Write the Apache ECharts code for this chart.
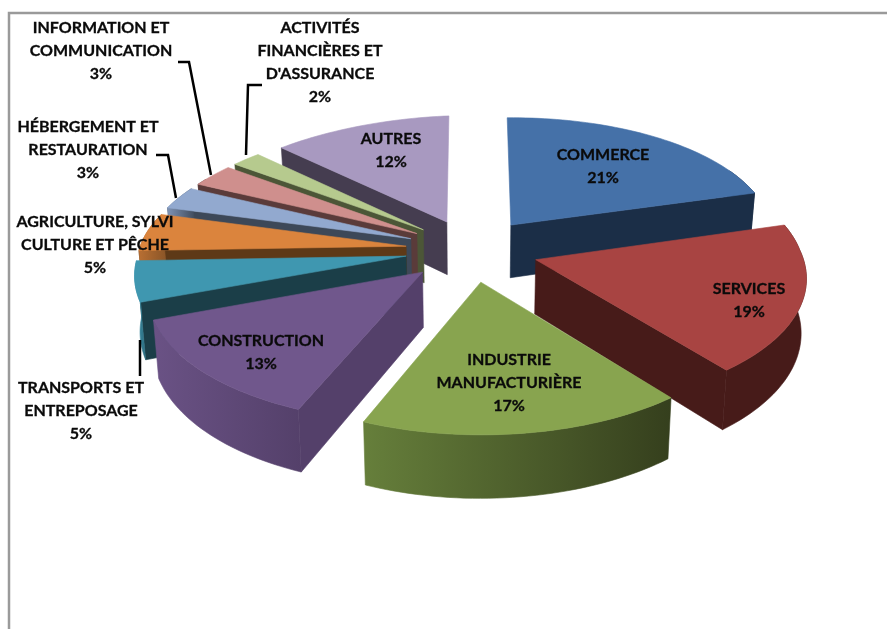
<!DOCTYPE html>
<html>
<head>
<meta charset="utf-8">
<style>html,body{margin:0;padding:0;background:#fff}#main{width:887px;height:629px}</style>
<script src="https://cdn.jsdelivr.net/npm/echarts@6/dist/echarts.min.js"></script>
</head>
<body>
<div id="main"></div>
<script>
var categories = ['COMMERCE', 'SERVICES', 'INDUSTRIE\nMANUFACTURIÈRE', 'CONSTRUCTION', 'TRANSPORTS ET\nENTREPOSAGE',
    'AGRICULTURE, SYLVI\nCULTURE ET PÊCHE', 'HÉBERGEMENT ET\nRESTAURATION', 'INFORMATION ET\nCOMMUNICATION',
    'ACTIVITÉS\nFINANCIÈRES ET\nD\'ASSURANCE', 'AUTRES'];
var values = [21, 19, 17, 13, 5, 5, 3, 3, 2, 12];

var topColors = ['#4571a8', '#a84442', '#88a44f', '#70578c', '#3f97b0', '#db843d', '#92a9cf', '#cf8f8d', '#b6ca8e', '#a899c0'];
var wallColors = ['#1b2e47', '#471b19', '#3a461f', '#54406a', '#1b3e48', '#5e3917', '#3d4858', '#5a3b3a', '#4c5637', '#453d50'];
var rimLeft = ['#1b2e47', '#471b19', '#667f3b', '#6a5285', '#3f97b0', '#b86f33', '#7f93b5', '#5a3b3a', '#4c5637', '#453d50'];
var rimRight = ['#1b2e47', '#471b19', '#353f1d', '#54406a', '#2b6a7c', '#8a5527', '#3d4858', '#5a3b3a', '#4c5637', '#453d50'];

// back to front, so the nearer slices cover the walls of the others
var drawOrder = [0, 9, 8, 7, 6, 5, 4, 1, 3, 2];

var labelCenters = [[603, 166], [749, 300], [509, 383], [261, 352], [81, 411], [95, 245], [88, 150], [101, 51], [320, 62], [391, 150]];
var leaderLines = [
    [[140, 340], [140, 376]],
    [[156, 155], [168, 155], [176, 198]],
    [[178, 62], [189, 62], [211, 175]],
    [[262, 85], [248, 85], [246, 155]]
];

// projection of the tilted pie
var cx = 476, cy = 250, scaleX = 266, scaleY = 126, perspY = 0.12, perspX = 0.012;
var explode = 0.25, rotation = -2, thickness = 54, squeeze = 0.984;
var apexShift = -4, backShear = 4, backDrop = 6;

var total = 0;
values.forEach(function (v) { total += v; });
var startAngles = [];
var acc = 0;
values.forEach(function (v) {
    startAngles.push(acc / total * 360 + rotation);
    acc += v;
});

function rad(a) { return a * Math.PI / 180; }

function project(X, Y, low) {
    var w = 1 + perspY * Y + perspX * X;
    var back = Math.max(Y, 0);
    var x = scaleX * X / w + backShear * back * Math.max(1 + X, 0);
    var y = -scaleY * Y / w + backDrop * back * Math.max(-X, 0);
    if (low) {
        x *= squeeze;
        y += thickness / w;
    }
    return [cx + x, cy + y];
}

function slicePoints(i) {
    var a0 = startAngles[i];
    var a1 = a0 + values[i] / total * 360;
    var m = rad((a0 + a1) / 2);
    var ox = explode * Math.sin(m), oy = explode * Math.cos(m);
    var arc = [], rim = [], rimLow = [];
    function addPoint(a) {
        var sx = ox + Math.sin(rad(a)), sy = oy + Math.cos(rad(a));
        arc.push(project(sx, sy));
        // the far side of the rim can not be seen
        if (Math.cos(rad(a)) < 0.5) {
            rim.push(project(sx, sy));
            rimLow.push(project(sx, sy, true));
        }
    }
    for (var a = a0; a < a1; a += 1.5) addPoint(a);
    addPoint(a1);
    var apex = project(ox, oy), apexLow = project(ox, oy, true);
    apex[0] += apexShift;
    apexLow[0] += apexShift;
    return {
        a0: a0, a1: a1, apex: apex, apexLow: apexLow, arc: arc, rim: rim, rimLow: rimLow,
        firstLow: project(ox + Math.sin(rad(a0)), oy + Math.cos(rad(a0)), true),
        lastLow: project(ox + Math.sin(rad(a1)), oy + Math.cos(rad(a1)), true)
    };
}

function poly(points, fill) {
    return { type: 'polygon', shape: { points: points }, style: { fill: fill, stroke: fill, lineWidth: 0.6 } };
}

function renderSlice(params, api) {
    var i = api.value(0);
    var p = slicePoints(i);
    var n = p.arc.length - 1;
    var rimFill = new echarts.graphic.LinearGradient(0, 0, 1, 0, [
        { offset: 0, color: rimLeft[i] },
        { offset: 1, color: rimRight[i] }
    ]);
    var children = [];
    // only the walls turned towards the viewer
    if (Math.sin(rad(p.a0)) < -0.1) {
        children.push(poly([p.apex, p.arc[0], p.firstLow, p.apexLow], wallColors[i]));
    }
    if (Math.sin(rad(p.a1)) > 0.1) {
        children.push(poly([p.apex, p.arc[n], p.lastLow, p.apexLow], wallColors[i]));
    }
    if (p.rim.length > 1) {
        children.push(poly(p.rim.concat(p.rimLow.slice().reverse()), rimFill));
    }
    children.push(poly([p.apex].concat(p.arc), topColors[i]));
    return { type: 'group', children: children };
}

function renderLabel(params, api) {
    var i = api.value(0);
    return {
        type: 'text',
        x: labelCenters[i][0],
        y: labelCenters[i][1],
        style: {
            text: categories[i] + '\n' + values[i] + '%',
            fill: '#0a0a0a',
            stroke: '#0a0a0a',
            lineWidth: 0.3,
            font: 'bold 16px Lato',
            lineHeight: 23,
            align: 'center',
            verticalAlign: 'middle'
        }
    };
}

function renderLeader(params, api) {
    return {
        type: 'polyline',
        shape: { points: leaderLines[api.value(0)] },
        style: { stroke: '#000', lineWidth: 2.5, fill: null }
    };
}

var chart = echarts.init(document.getElementById('main'));
var option = {
    animation: false,
    backgroundColor: '#fff',
    graphic: [
        { type: 'polyline', shape: { points: [[9, 629], [9, 13], [887, 13]] }, style: { stroke: '#9a9a9a', lineWidth: 2.5, fill: null } }
    ],
    series: [
        {
            type: 'custom',
            coordinateSystem: 'none',
            renderItem: renderSlice,
            data: drawOrder.map(function (i) { return [i]; }),
            z: 2
        },
        {
            type: 'custom',
            coordinateSystem: 'none',
            renderItem: renderLeader,
            data: leaderLines.map(function (l, i) { return [i]; }),
            z: 3
        },
        {
            type: 'custom',
            coordinateSystem: 'none',
            renderItem: renderLabel,
            data: categories.map(function (c, i) { return [i]; }),
            z: 4
        }
    ]
};
chart.setOption(option);
</script>
</body>
</html>
